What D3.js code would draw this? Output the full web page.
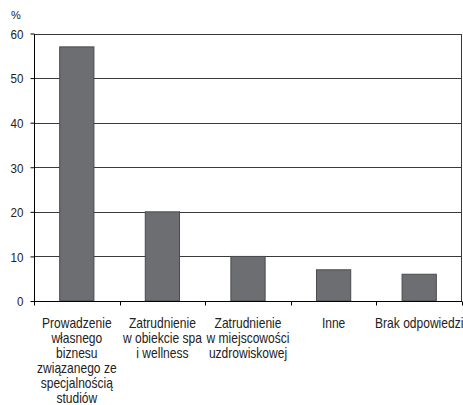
<!DOCTYPE html>
<html>
<head>
<meta charset="utf-8">
<script src="https://cdn.jsdelivr.net/npm/d3@7"></script>
<style>
  body { margin: 0; background: #fff; }
  svg text { font-family: 'Liberation Sans', Arial, sans-serif; fill: #222; }
</style>
</head>
<body>
<svg id="chart" width="463" height="405"></svg>
<script>
// dane z wykresu
const categories = [
  ['Prowadzenie', 'własnego', 'biznesu', 'związanego ze', 'specjalnością', 'studiów'],
  ['Zatrudnienie', 'w obiekcie spa', 'i wellness'],
  ['Zatrudnienie', 'w miejscowości', 'uzdrowiskowej'],
  ['Inne'],
  ['Brak odpowiedzi']
]
const values = [57, 20, 10, 7, 6]
const yTicks = [0, 10, 20, 30, 40, 50, 60]

const svg = d3.select('#chart')
const plotLeft = 34
const plotRight = 462
const plotTop = 33.5
const plotBottom = 301
const squeeze = 0.86 // węższy krój jak w oryginale

const x = d3.scaleBand()
  .domain(d3.range(values.length))
  .range([plotLeft, plotRight])
  .paddingInner(0.6)
  .paddingOuter(0.3)

const band = d3.scaleBand()
  .domain(d3.range(values.length))
  .range([plotLeft, plotRight])

const y = d3.scaleLinear().domain([0, 60]).range([plotBottom, plotTop])

// linie siatki
svg.append('g')
  .selectAll('line')
  .data(yTicks.filter(d => d > 0))
  .enter().append('line')
  .attr('x1', plotLeft)
  .attr('x2', plotRight)
  .attr('y1', d => Math.round(y(d)) + 0.5)
  .attr('y2', d => Math.round(y(d)) + 0.5)
  .attr('stroke', '#3a3a3a')
  .attr('stroke-width', 1)

// prawa ramka
svg.append('line')
  .attr('x1', plotRight - 0.5).attr('x2', plotRight - 0.5)
  .attr('y1', Math.round(y(60)) + 0.5).attr('y2', plotBottom)
  .attr('stroke', '#3a3a3a')

// słupki
svg.append('g')
  .selectAll('rect')
  .data(values)
  .enter().append('rect')
  .attr('x', (d, i) => x(i))
  .attr('y', d => y(d))
  .attr('width', x.bandwidth())
  .attr('height', d => plotBottom - y(d))
  .attr('fill', '#6d6e72')
  .attr('stroke', '#4a4a4c')
  .attr('stroke-width', 1)

// oś Y
const yAxis = svg.append('g')
  .attr('transform', `translate(${plotLeft + 0.5},0)`)
  .call(d3.axisLeft(y).tickValues(yTicks).tickSize(4).tickPadding(7))
yAxis.select('.domain').attr('stroke', '#000').attr('d', `M0,${Math.round(y(60)) + 0.5}V${plotBottom + 0.5}`)
yAxis.selectAll('.tick line').attr('stroke', '#000')
yAxis.selectAll('text')
  .style('font-size', '13.5px')
  .style('font-family', "'Liberation Sans', Arial, sans-serif")
  .attr('fill', '#222')
  .attr('transform', `translate(-11,0) scale(${squeeze},1)`)
  .attr('x', null)
  .attr('dy', '0.36em')

// oś X
const xAxis = svg.append('g')
  .attr('transform', `translate(0,${plotBottom + 0.5})`)
xAxis.append('line')
  .attr('x1', plotLeft).attr('x2', plotRight)
  .attr('stroke', '#000')
xAxis.selectAll('.sep')
  .data(d3.range(values.length + 1))
  .enter().append('line')
  .attr('class', 'sep')
  .attr('x1', i => Math.round(plotLeft + i * band.bandwidth()) + 0.5)
  .attr('x2', i => Math.round(plotLeft + i * band.bandwidth()) + 0.5)
  .attr('y1', 0)
  .attr('y2', 4)
  .attr('stroke', '#000')

// etykiety kategorii
const labels = svg.append('g')
  .selectAll('text')
  .data(categories)
  .enter().append('text')
  .attr('text-anchor', 'middle')
  .style('font-size', '14px')
  .attr('transform', (d, i) => `translate(${band(i) + band.bandwidth() / 2},328) scale(${squeeze},1)`)

labels.selectAll('tspan')
  .data(d => d)
  .enter().append('tspan')
  .attr('x', 0)
  .attr('dy', (d, i) => i === 0 ? 0 : 15)
  .text(d => d)

// jednostka
svg.append('text')
  .attr('x', 11)
  .attr('y', 19)
  .style('font-size', '11px')
  .text('%')
</script>
</body>
</html>
